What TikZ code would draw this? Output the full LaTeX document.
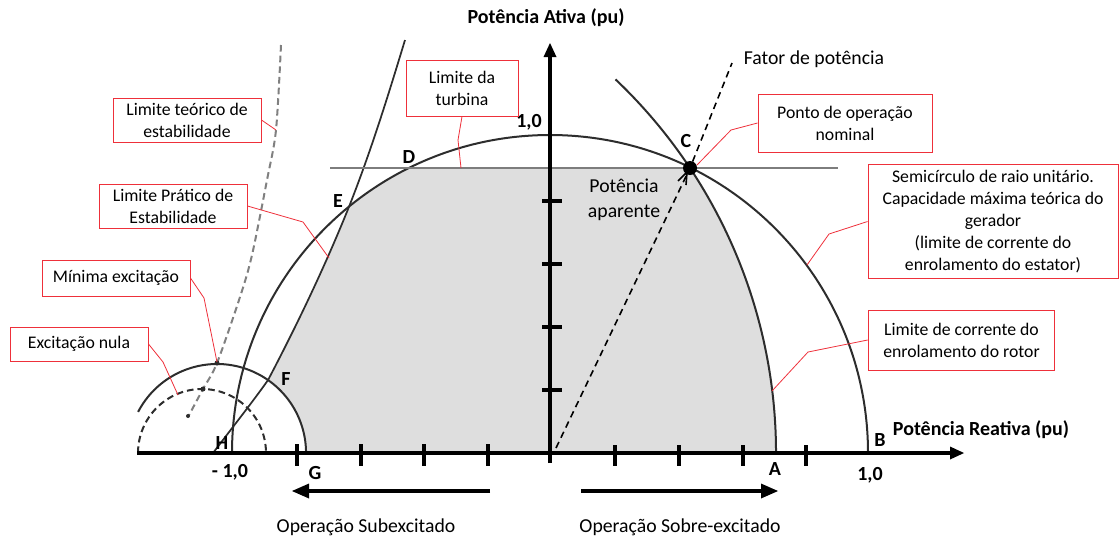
\documentclass[tikz,border=0pt]{standalone}
\usepackage{fontspec}
\setmainfont{Carlito}
\definecolor{zonegray}{RGB}{222,222,222}
\definecolor{boxred}{RGB}{238,48,58}
\definecolor{curvegray}{RGB}{45,45,45}
\definecolor{turbgray}{RGB}{125,125,125}

\begin{document}
\begin{tikzpicture}[x=0.75pt,y=-0.75pt]
\tikzstyle{every node}+=[inner sep=0pt]
\tikzstyle{box}=[draw=boxred, line width=0.75pt, fill=white, align=center, font=\fontsize{13.3}{16.5}\selectfont]
\tikzstyle{leader}=[draw=boxred, line width=0.6pt]
\tikzstyle{curve}=[draw=curvegray, line width=1.5pt]
\tikzstyle{letter}=[font=\fontsize{15}{17}\selectfont\bfseries]
\tikzstyle{num}=[font=\fontsize{15}{17}\selectfont\bfseries]
\tikzstyle{txt}=[font=\fontsize{14.8}{18.75}\selectfont, align=center]
\tikzstyle{axis}=[line width=2.6pt]
\useasboundingbox (0,0) rectangle (1119,537);
% points of the capability region
\coordinate (O) at (550,453);
\coordinate (A) at (776,453);
\coordinate (B) at (868,453);
\coordinate (C) at (690,168);
\coordinate (D) at (409.1,168);
\coordinate (E) at (349.1,206.5);
\coordinate (F) at (268,380.1);
\coordinate (G) at (306,453);
\coordinate (H) at (213,453);
% operating region
\fill [zonegray] (G) -- (A) arc[start angle=0, end angle=-33.6, radius=515] -- (D)
  arc[start angle=-116.3, end angle=-129.2, radius=318]
  .. controls (326,264) and (298.5,322) .. (F)
  arc[start angle=-55, end angle=0, radius=89] -- cycle;
% curves
\draw [curve] (232,453) arc[start angle=180, end angle=360, radius=318];
\draw [curve] (615.5,79.4) arc[start angle=-46.5, end angle=0, radius=515];
\draw [curve, line width=1.3pt] (405,40) .. controls (388,96) and (371,151) .. (E)
  .. controls (326,264) and (298.5,322) .. (F)
  .. controls (254,400) and (232,428) .. (H);
\draw [curve] (138.1,411.9) arc[start angle=-152.5, end angle=0, radius=89];
\draw [curve, dash pattern=on 5pt off 3pt] (138,453) arc[start angle=180, end angle=360, radius=64];
\draw [curve, draw=gray, dash pattern=on 5pt off 3pt] plot[smooth] coordinates {(281,45) (276,130) (267,180) (252,255) (240,297) (217,363) (203,389) (188,417)};
\fill [curvegray] (217,363) circle (2.5);
\fill [curvegray] (203,389) circle (2.5);
\fill [curvegray] (188,416) circle (2);
% turbine limit
\draw [turbgray, line width=2pt] (330,168) -- (838,168);
% axes
\draw [axis] (137,453) -- (952,453);
\fill (964,453) -- (950,446.5) -- (950,459.5) -- cycle;
\draw [axis] (550,463) -- (550,54);
\fill (550,43) -- (543.5,57) -- (556.5,57) -- cycle;
\draw [axis] (297,444) -- (297,466);
\draw [axis] (361,444) -- (361,466);
\draw [axis] (424,444) -- (424,466);
\draw [axis] (488,444) -- (488,466);
\draw [axis] (615,445) -- (615,466);
\draw [axis] (679,445) -- (679,466);
\draw [axis] (743,445) -- (743,466);
\draw [axis] (806,445) -- (806,466);
\draw [axis] (542,390) -- (562,390);
\draw [axis] (542,327) -- (562,327);
\draw [axis] (542,264) -- (562,264);
\draw [axis] (542,201) -- (562,201);
% power factor
\draw [line width=1.2pt, dash pattern=on 5pt off 3.5pt] (556,448) -- (C) -- (732,63);
\draw [line width=1.2pt] (678,181) -- (687,172) -- (686,185);
\fill (C) circle (7);
% operation arrows
\draw [line width=2.4pt] (490,491) -- (306,491);
\fill (292,491) -- (309,483.5) -- (309,498.5) -- cycle;
\draw [line width=2.4pt] (581,491) -- (764,491);
\fill (778,491) -- (761,483.5) -- (761,498.5) -- cycle;
% texts
\node [num] (tP) at (546,18) {Potência Ativa (pu)};
\node [num] (tQ) at (981,430) {Potência Reativa (pu)};
\node [txt] (fp) at (814,59) {Fator de potência};
\node [txt] (papar) at (624,200) {Potência\\aparente};
\node [txt, font=\fontsize{14.8}{17}\selectfont] (subex) at (366,527) {Operação Subexcitado};
\node [txt, font=\fontsize{14.8}{17}\selectfont] (sobrex) at (680,527) {Operação Sobre-excitado};
\node [num] (umP) at (529,122) {1,0};
\node [num] (umNeg) at (230,472) {- 1,0};
\node [num] (umQ) at (870,475) {1,0};
\node [letter] (lA) at (775,469) {A};
\node [letter] (lB) at (880,440) {B};
\node [letter] (lC) at (686,141) {C};
\node [letter] (lD) at (409,157) {D};
\node [letter] (lE) at (338,201) {E};
\node [letter] (lF) at (286,379) {F};
\node [letter] (lG) at (315,473) {G};
\node [letter] (lH) at (222,443) {H};
% boxes
\coordinate (pTeo) at (276,130);
\coordinate (pPrat) at (329,258);
\coordinate (pMin) at (217,362);
\coordinate (pNula) at (178,395);
\coordinate (pTurb) at (461,168);
\coordinate (pNom) at (697,165);
\coordinate (pSemi) at (807,265);
\coordinate (pRotor) at (772,391);
\node [box, minimum width=111pt, minimum height=33pt] (bTeo) at (187,120) {Limite teórico de\\estabilidade};
\node [box, minimum width=111pt, minimum height=33pt] (bPrat) at (173,206) {Limite Prático de\\Estabilidade};
\node [box, minimum width=111pt, minimum height=27pt] (bMin) at (116,278) {Mínima excitação};
\node [box, minimum width=103.5pt, minimum height=25.5pt] (bNula) at (79,344) {Excitação nula};
\node [box, minimum width=84pt, minimum height=42pt] (bTurb) at (462,88) {Limite da\\turbina};
\node [box, minimum width=130.5pt, minimum height=43.5pt] (bNom) at (845,123) {Ponto de operação\\nominal};
\node [box, minimum width=187.5pt, minimum height=85pt] (bSemi) at (993,221.5) {Semicírculo de raio unitário.\\Capacidade máxima teórica do\\gerador\\(limite de corrente do\\enrolamento do estator)};
\node [box, minimum width=140pt, minimum height=45pt] (bRotor) at (961.5,340) {Limite de corrente do\\enrolamento do rotor};
\draw [leader] (bTeo.east) -- (pTeo);
\draw [leader] (bPrat.east) -- (303,222) -- (pPrat);
\draw [leader] (bMin.east) -- (204,298) -- (pMin);
\draw [leader] (bNula.east) -- (163,362) -- (pNula);
\draw [leader] (bTurb.south) -- (458,140) -- (pTurb);
\draw [leader] (bNom.west) -- (731,130) -- (pNom);
\draw [leader] (bSemi.west) -- (829,234) -- (pSemi);
\draw [leader] (bRotor.west) -- (808,352) -- (pRotor);
\end{tikzpicture}
\end{document}
